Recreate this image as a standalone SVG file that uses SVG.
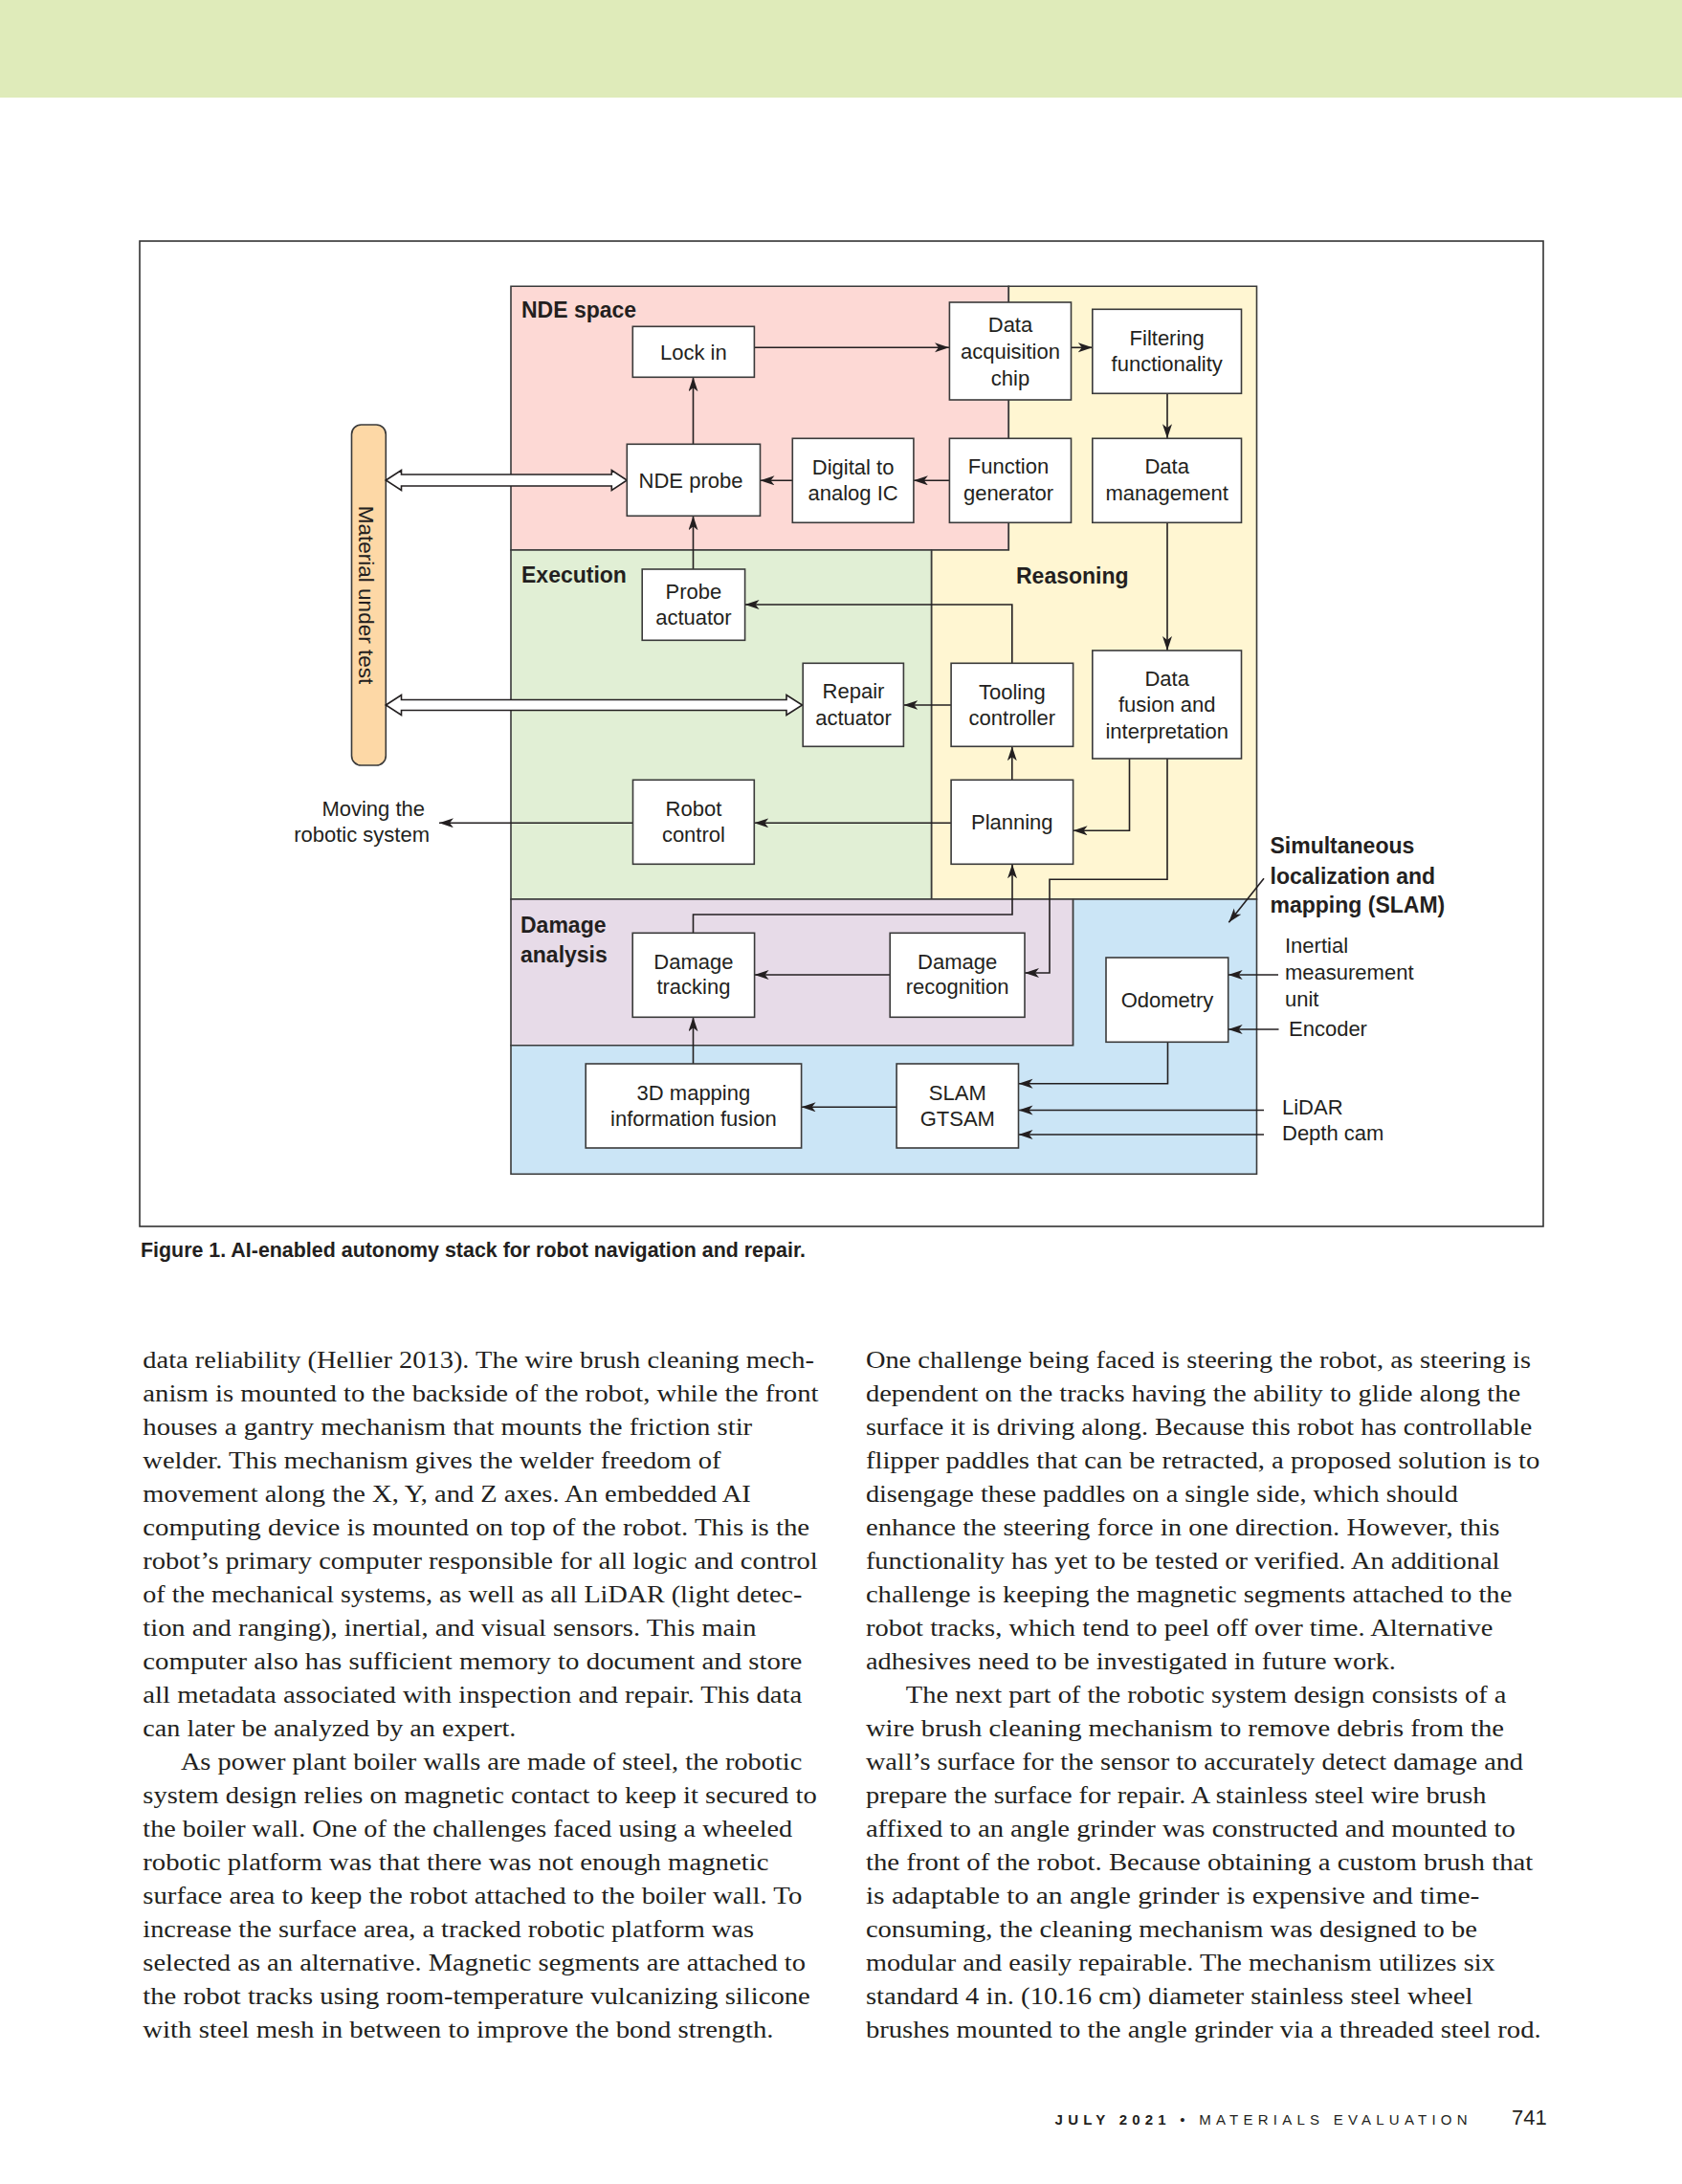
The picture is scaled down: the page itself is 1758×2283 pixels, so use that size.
<svg xmlns="http://www.w3.org/2000/svg" width="1758" height="2283" viewBox="0 0 1758 2283">
<defs>
<style>
.t{font-family:"Liberation Sans",Arial,sans-serif;font-size:22px;fill:#231f20;text-anchor:middle}
.l{font-family:"Liberation Sans",Arial,sans-serif;font-size:22px;fill:#231f20}
.b{font-family:"Liberation Sans",Arial,sans-serif;font-size:23px;font-weight:bold;fill:#231f20}
.box{fill:#fff;stroke:#3a3a3a;stroke-width:1.6}
.reg{stroke:#3a3a3a;stroke-width:1.6}
.c{fill:none;stroke:#231f20;stroke-width:1.6;marker-end:url(#ah)}
.dbl{fill:#fff;stroke:#231f20;stroke-width:1.6;stroke-linejoin:miter}
.body{font-family:"Liberation Serif","Times New Roman",serif;font-size:26px;fill:#231f20}
</style>
<marker id="ah" markerUnits="userSpaceOnUse" markerWidth="16" markerHeight="12" refX="15" refY="5" orient="auto"><path d="M0,0 L15,5 L0,10 L4,5 Z" fill="#231f20"/></marker>
</defs>
<rect x="0" y="0" width="1758" height="2283" fill="#fff"/>
<rect x="0" y="0" width="1758" height="102" fill="#dfebba"/>
<rect x="146" y="252" width="1467" height="1030" fill="none" stroke="#333" stroke-width="1.6"/>

<g id="regions">
<path class="reg" fill="#fdd9d5" d="M534,299.3 H1054.3 V575 H534 Z"/>
<path class="reg" fill="#fff6d2" d="M1054.3,299.3 H1313.5 V940 H973.5 V575 H1054.3 Z"/>
<path class="reg" fill="#e1efd5" d="M534,575 H973.5 V940 H534 Z"/>
<path class="reg" fill="#e7dbe8" d="M534,940 H1121.6 V1092.7 H534 Z"/>
<path class="reg" fill="#cbe5f6" d="M1121.6,940 H1313.5 V1227.3 H534 V1092.7 H1121.6 Z"/>
<text class="b" x="545" y="331.5">NDE space</text>
<text class="b" x="545" y="609">Execution</text>
<text class="b" x="1062" y="610">Reasoning</text>
<text class="b" x="544" y="975">Damage</text>
<text class="b" x="544" y="1005.5">analysis</text>
<text class="b" x="1327.5" y="891.7">Simultaneous</text>
<text class="b" x="1327.5" y="923.5">localization and</text>
<text class="b" x="1327.5" y="954">mapping (SLAM)</text>
</g>

<g id="material">
<rect x="367.5" y="444" width="35.8" height="356" rx="10" fill="#fdd8a6" stroke="#3a3a3a" stroke-width="1.6"/>
<text class="t" style="font-size:22.5px" transform="translate(375,622) rotate(90)">Material under test</text>
</g>

<g id="connectors">
<path class="c" d="M788.4,363.3 H992"/>
<path class="c" d="M1119.5,363.3 H1141.8"/>
<path class="c" d="M1220,411.3 V458.3"/>
<path class="c" d="M992.4,502.3 H954.9"/>
<path class="c" d="M828.3,502.3 H794.5"/>
<path class="c" d="M724.5,464.3 V394.3"/>
<path class="c" d="M724.5,595 V539.3"/>
<path class="c" d="M1057.8,693.3 V632 H778.6"/>
<path class="c" d="M994.1,737 H944.4"/>
<path class="c" d="M1220,546.3 V680"/>
<path class="c" d="M1057.8,815.3 V780.3"/>
<path class="c" d="M1180.5,793 V868.3 H1121.6"/>
<path class="c" d="M1220,793 V919.3 H1097 V1017 H1071"/>
<path class="c" d="M994.1,860.3 H788.3"/>
<path class="c" d="M661.5,860.3 H459"/>
<path class="c" d="M724.5,975.3 V956 H1058 V903.3"/>
<path class="c" d="M930.2,1019 H788.6"/>
<path class="c" d="M724.5,1112 V1063.3"/>
<path class="c" d="M937.1,1157.3 H837.6"/>
<path class="c" d="M1220.5,1089.3 V1132.7 H1064.5"/>
<path class="c" d="M1321,1160.5 H1064.5"/>
<path class="c" d="M1321,1186 H1064.5"/>
<path class="c" d="M1336,1019 H1283.7"/>
<path class="c" d="M1336.5,1076 H1283.7"/>
<path class="c" d="M1321,918.3 L1284.3,964.3"/>
<path class="dbl" d="M403.3,502 L419.5,491.5 L419.5,496 L639.3,496 L639.3,491.5 L655.3,502 L639.3,512.5 L639.3,508 L419.5,508 L419.5,512.5 Z"/>
<path class="dbl" d="M403.3,737 L419.5,726.5 L419.5,731.5 L822,731.5 L822,726.5 L838.5,737 L822,747.5 L822,742.5 L419.5,742.5 L419.5,747.5 Z"/>
</g>

<g id="n-lockin"><rect class="box" x="661.3" y="341.3" width="127.1" height="53"/><text class="t" x="724.9" y="375.5">Lock in</text></g>
<g id="n-daq"><rect class="box" x="992.4" y="316" width="127.1" height="102"/><text class="t" x="1056" y="346.5">Data</text><text class="t" x="1056" y="374.5">acquisition</text><text class="t" x="1056" y="402.5">chip</text></g>
<g id="n-filter"><rect class="box" x="1141.8" y="323.3" width="155.7" height="88"/><text class="t" x="1219.7" y="360.5">Filtering</text><text class="t" x="1219.7" y="388.3">functionality</text></g>
<g id="n-ndeprobe"><rect class="box" x="655.3" y="464.3" width="139.2" height="75"/><text class="t" x="722" y="510">NDE probe</text></g>
<g id="n-dac"><rect class="box" x="828.3" y="458.3" width="126.6" height="88"/><text class="t" x="891.6" y="495.5">Digital to</text><text class="t" x="891.6" y="523">analog IC</text></g>
<g id="n-funcgen"><rect class="box" x="992.4" y="458.3" width="127.1" height="88"/><text class="t" x="1054" y="495">Function</text><text class="t" x="1054" y="522.7">generator</text></g>
<g id="n-datamgmt"><rect class="box" x="1141.8" y="458.3" width="155.7" height="88"/><text class="t" x="1219.7" y="495">Data</text><text class="t" x="1219.7" y="522.7">management</text></g>
<g id="n-probeact"><rect class="box" x="671.2" y="595" width="107.4" height="74.3"/><text class="t" x="724.9" y="626">Probe</text><text class="t" x="724.9" y="653.3">actuator</text></g>
<g id="n-repairact"><rect class="box" x="839.2" y="693.3" width="105.2" height="87"/><text class="t" x="892" y="730">Repair</text><text class="t" x="892" y="758">actuator</text></g>
<g id="n-tooling"><rect class="box" x="994.1" y="693.3" width="127.5" height="87"/><text class="t" x="1057.8" y="731">Tooling</text><text class="t" x="1057.8" y="758.3">controller</text></g>
<g id="n-fusion"><rect class="box" x="1141.8" y="680" width="155.7" height="113"/><text class="t" x="1219.7" y="716.7">Data</text><text class="t" x="1219.7" y="744">fusion and</text><text class="t" x="1219.7" y="771.7">interpretation</text></g>
<g id="n-robotctl"><rect class="box" x="661.5" y="815.3" width="126.8" height="88"/><text class="t" x="724.9" y="852.7">Robot</text><text class="t" x="724.9" y="880">control</text></g>
<g id="n-planning"><rect class="box" x="994.1" y="815.3" width="127.5" height="88"/><text class="t" x="1057.8" y="866.7">Planning</text></g>
<g id="n-dmgtrack"><rect class="box" x="661.2" y="975.3" width="127.4" height="88"/><text class="t" x="724.9" y="1012.7">Damage</text><text class="t" x="724.9" y="1039.3">tracking</text></g>
<g id="n-dmgrec"><rect class="box" x="930.2" y="975.3" width="140.8" height="88"/><text class="t" x="1000.6" y="1012.7">Damage</text><text class="t" x="1000.6" y="1039.3">recognition</text></g>
<g id="n-odometry"><rect class="box" x="1156" y="1001" width="127.7" height="88.3"/><text class="t" x="1220" y="1052.7">Odometry</text></g>
<g id="n-3dmap"><rect class="box" x="612.2" y="1112" width="225.4" height="88"/><text class="t" x="724.9" y="1150">3D mapping</text><text class="t" x="724.9" y="1177.3">information fusion</text></g>
<g id="n-slam"><rect class="box" x="937.1" y="1112" width="127.4" height="88"/><text class="t" x="1000.8" y="1150">SLAM</text><text class="t" x="1000.8" y="1177.3">GTSAM</text></g>

<g id="labels">
<text class="l" x="444" y="852.7" text-anchor="end">Moving the</text>
<text class="l" x="449" y="880" text-anchor="end">robotic system</text>
<text class="l" x="1343" y="995.7">Inertial</text>
<text class="l" x="1343" y="1024">measurement</text>
<text class="l" x="1343" y="1051.7">unit</text>
<text class="l" x="1347" y="1082.7">Encoder</text>
<text class="l" x="1340" y="1165">LiDAR</text>
<text class="l" x="1340" y="1192.3">Depth cam</text>
</g>

<text x="147" y="1314" font-family="Liberation Sans, Arial, sans-serif" font-size="21.5" font-weight="bold" fill="#231f20" textLength="695" lengthAdjust="spacingAndGlyphs">Figure 1. AI-enabled autonomy stack for robot navigation and repair.</text>

<g id="body-left" class="body">
<text x="149.3" y="1430" textLength="701.6" lengthAdjust="spacingAndGlyphs">data reliability (Hellier 2013). The wire brush cleaning mech-</text>
<text x="149.3" y="1465" textLength="706.2" lengthAdjust="spacingAndGlyphs">anism is mounted to the backside of the robot, while the front</text>
<text x="149.3" y="1500" textLength="636.9" lengthAdjust="spacingAndGlyphs">houses a gantry mechanism that mounts the friction stir</text>
<text x="149.3" y="1535" textLength="604.3" lengthAdjust="spacingAndGlyphs">welder. This mechanism gives the welder freedom of</text>
<text x="149.3" y="1570" textLength="635.5" lengthAdjust="spacingAndGlyphs">movement along the X, Y, and Z axes. An embedded AI</text>
<text x="149.3" y="1605" textLength="696.9" lengthAdjust="spacingAndGlyphs">computing device is mounted on top of the robot. This is the</text>
<text x="149.3" y="1640" textLength="705.3" lengthAdjust="spacingAndGlyphs">robot’s primary computer responsible for all logic and control</text>
<text x="149.3" y="1675" textLength="689" lengthAdjust="spacingAndGlyphs">of the mechanical systems, as well as all LiDAR (light detec-</text>
<text x="149.3" y="1710" textLength="641.1" lengthAdjust="spacingAndGlyphs">tion and ranging), inertial, and visual sensors. This main</text>
<text x="149.3" y="1745" textLength="689" lengthAdjust="spacingAndGlyphs">computer also has sufficient memory to document and store</text>
<text x="149.3" y="1780" textLength="689" lengthAdjust="spacingAndGlyphs">all metadata associated with inspection and repair. This data</text>
<text x="149.3" y="1815" textLength="390.1" lengthAdjust="spacingAndGlyphs">can later be analyzed by an expert.</text>
<text x="188.9" y="1850" textLength="649.4" lengthAdjust="spacingAndGlyphs">As power plant boiler walls are made of steel, the robotic</text>
<text x="149.3" y="1885" textLength="704.4" lengthAdjust="spacingAndGlyphs">system design relies on magnetic contact to keep it secured to</text>
<text x="149.3" y="1920" textLength="678.8" lengthAdjust="spacingAndGlyphs">the boiler wall. One of the challenges faced using a wheeled</text>
<text x="149.3" y="1955" textLength="654.1" lengthAdjust="spacingAndGlyphs">robotic platform was that there was not enough magnetic</text>
<text x="149.3" y="1990" textLength="689" lengthAdjust="spacingAndGlyphs">surface area to keep the robot attached to the boiler wall. To</text>
<text x="149.3" y="2025" textLength="638.7" lengthAdjust="spacingAndGlyphs">increase the surface area, a tracked robotic platform was</text>
<text x="149.3" y="2060" textLength="692.7" lengthAdjust="spacingAndGlyphs">selected as an alternative. Magnetic segments are attached to</text>
<text x="149.3" y="2095" textLength="697.4" lengthAdjust="spacingAndGlyphs">the robot tracks using room-temperature vulcanizing silicone</text>
<text x="149.3" y="2130" textLength="659.2" lengthAdjust="spacingAndGlyphs">with steel mesh in between to improve the bond strength.</text>
</g>

<g id="body-right" class="body">
<text x="904.9" y="1430" textLength="695.1" lengthAdjust="spacingAndGlyphs">One challenge being faced is steering the robot, as steering is</text>
<text x="904.9" y="1465" textLength="684.4" lengthAdjust="spacingAndGlyphs">dependent on the tracks having the ability to glide along the</text>
<text x="904.9" y="1500" textLength="696.5" lengthAdjust="spacingAndGlyphs">surface it is driving along. Because this robot has controllable</text>
<text x="904.9" y="1535" textLength="704.4" lengthAdjust="spacingAndGlyphs">flipper paddles that can be retracted, a proposed solution is to</text>
<text x="904.9" y="1570" textLength="619.1" lengthAdjust="spacingAndGlyphs">disengage these paddles on a single side, which should</text>
<text x="904.9" y="1605" textLength="662.5" lengthAdjust="spacingAndGlyphs">enhance the steering force in one direction. However, this</text>
<text x="904.9" y="1640" textLength="662.5" lengthAdjust="spacingAndGlyphs">functionality has yet to be tested or verified. An additional</text>
<text x="904.9" y="1675" textLength="675.5" lengthAdjust="spacingAndGlyphs">challenge is keeping the magnetic segments attached to the</text>
<text x="904.9" y="1710" textLength="655.5" lengthAdjust="spacingAndGlyphs">robot tracks, which tend to peel off over time. Alternative</text>
<text x="904.9" y="1745" textLength="554" lengthAdjust="spacingAndGlyphs">adhesives need to be investigated in future work.</text>
<text x="946.8" y="1780" textLength="627.6" lengthAdjust="spacingAndGlyphs">The next part of the robotic system design consists of a</text>
<text x="904.9" y="1815" textLength="667.1" lengthAdjust="spacingAndGlyphs">wire brush cleaning mechanism to remove debris from the</text>
<text x="904.9" y="1850" textLength="687.1" lengthAdjust="spacingAndGlyphs">wall’s surface for the sensor to accurately detect damage and</text>
<text x="904.9" y="1885" textLength="648.5" lengthAdjust="spacingAndGlyphs">prepare the surface for repair. A stainless steel wire brush</text>
<text x="904.9" y="1920" textLength="678.8" lengthAdjust="spacingAndGlyphs">affixed to an angle grinder was constructed and mounted to</text>
<text x="904.9" y="1955" textLength="697.4" lengthAdjust="spacingAndGlyphs">the front of the robot. Because obtaining a custom brush that</text>
<text x="904.9" y="1990" textLength="641.5" lengthAdjust="spacingAndGlyphs">is adaptable to an angle grinder is expensive and time-</text>
<text x="904.9" y="2025" textLength="639.1" lengthAdjust="spacingAndGlyphs">consuming, the cleaning mechanism was designed to be</text>
<text x="904.9" y="2060" textLength="657.8" lengthAdjust="spacingAndGlyphs">modular and easily repairable. The mechanism utilizes six</text>
<text x="904.9" y="2095" textLength="634.5" lengthAdjust="spacingAndGlyphs">standard 4 in. (10.16 cm) diameter stainless steel wheel</text>
<text x="904.9" y="2130" textLength="705.8" lengthAdjust="spacingAndGlyphs">brushes mounted to the angle grinder via a threaded steel rod.</text>
</g>

<g id="footer">
<text x="1102.6" y="2221" font-family="Liberation Sans, Arial, sans-serif" font-size="15" fill="#231f20" textLength="431" lengthAdjust="spacing"><tspan font-weight="bold">JULY 2021</tspan> • MATERIALS EVALUATION</text>
<text x="1580" y="2221" font-family="Liberation Sans, Arial, sans-serif" font-size="22" fill="#231f20">741</text>
</g>
</svg>
